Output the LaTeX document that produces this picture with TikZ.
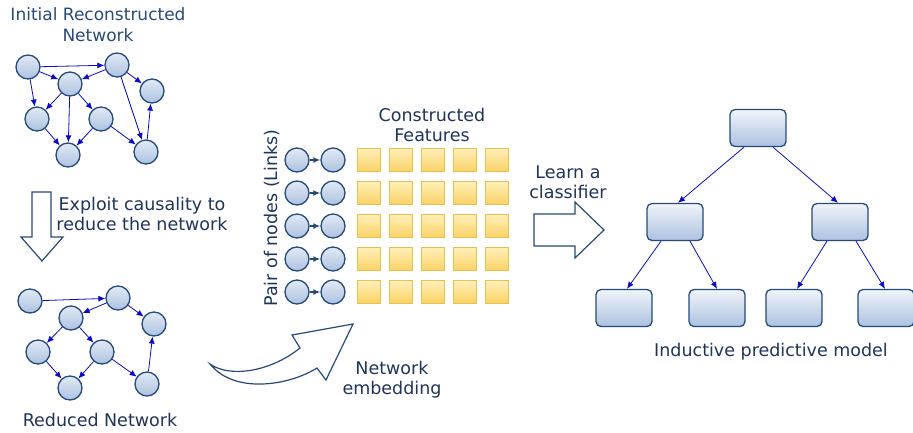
\documentclass[tikz,border=0pt]{standalone}
\usepackage{fontspec}
\setmainfont{DejaVu Sans}
\usetikzlibrary{arrows.meta}
\definecolor{navy}{RGB}{38,74,122}
\definecolor{txt}{RGB}{30,52,90}
\definecolor{edgeblue}{RGB}{10,10,200}
\definecolor{circtop}{RGB}{226,234,245}
\definecolor{circbot}{RGB}{172,194,224}
\definecolor{feattop}{RGB}{255,240,185}
\definecolor{featbot}{RGB}{250,210,100}
\definecolor{featline}{RGB}{232,192,80}
\begin{document}
\begin{tikzpicture}
	[x=1pt,y=-1pt,
	vert/.style={circle,draw=navy,line width=1.3pt,top color=circtop,bottom color=circbot,minimum size=24pt,inner sep=0pt},
	feat/.style={rectangle,draw=featline,line width=1pt,top color=feattop,bottom color=featbot,minimum size=23pt,inner sep=0pt},
	box/.style={rectangle,rounded corners=5pt,draw=navy,line width=1.3pt,top color=circtop!50!white,bottom color=circbot,minimum width=56pt,minimum height=37pt,inner sep=0pt},
	lbl/.style={text=txt,align=center,font=\fontsize{17.5}{20}\selectfont},
	link/.style={->,edgeblue,line width=0.8pt},
	hollow/.style={draw=navy,line width=1.2pt,fill=white,line join=miter},
	>={Latex[length=7pt,width=6pt]}]
	\useasboundingbox (0,0) rectangle (913,432);
	% initial network
	\node[lbl,text=navy,font=\fontsize{17}{21}\selectfont,name=t1]at(98,25){Initial Reconstructed\\Network};
	\node[vert,name=a1]at(28,67){};
	\node[vert,name=a2]at(70,84){};
	\node[vert,name=a3]at(117,65){};
	\node[vert,name=a4]at(152,91){};
	\node[vert,name=a5]at(37,119){};
	\node[vert,name=a6]at(101,119){};
	\node[vert,name=a7]at(68,155){};
	\node[vert,name=a8]at(146,152){};
	\draw[link] (a1)--(a3);
	\draw[link] (a1)--(a2);
	\draw[link] (a1)--(a5);
	\draw[link] (a3)--(a2);
	\draw[link] (a3)--(a4);
	\draw[link] (a3)--(a8);
	\draw[link] (a2)--(a5);
	\draw[link] (a2)--(a7);
	\draw[link] (a2)--(a6);
	\draw[link] (a5)--(a7);
	\draw[link] (a6)--(a7);
	\draw[link] (a6)--(a8);
	\draw[link] (a8)--(a4);
	% reduce step
	\draw[hollow] (32,192)--(51,192)--(51,237)--(63,237)--(42,261)--(21,237)--(32,237)--cycle;
	\node[lbl,name=t2]at(142,214){Exploit causality to\\reduce the network};
	% reduced network
	\node[vert,name=b1]at(30,301){};
	\node[vert,name=b2]at(71,318){};
	\node[vert,name=b3]at(118,298){};
	\node[vert,name=b4]at(154,324){};
	\node[vert,name=b5]at(38,352){};
	\node[vert,name=b6]at(102,352){};
	\node[vert,name=b7]at(70,388){};
	\node[vert,name=b8]at(147,384){};
	\draw[link] (b1)--(b3);
	\draw[link] (b3)--(b2);
	\draw[link] (b3)--(b4);
	\draw[link] (b2)--(b5);
	\draw[link] (b2)--(b6);
	\draw[link] (b5)--(b7);
	\draw[link] (b6)--(b7);
	\draw[link] (b6)--(b8);
	\draw[link] (b8)--(b4);
	\node[lbl,name=t3]at(100,420){Reduced Network};
	% embedding
	\draw[hollow] (210,364) .. controls (230,378) and (270,372) .. (300,348)
		--(292,335)--(353,324)--(326,380)--(317,368)
		.. controls (290,385) and (235,395) .. (210,364)--cycle;
	\node[lbl,name=t4]at(392,380){Network\\embedding};
	\node[lbl,name=t5,rotate=90]at(272,218){Pair of nodes (Links)};
	\node[lbl,name=t6]at(432,125){Constructed\\Features};
	\foreach \r in {1,...,5}{
		\node[vert,name=p\r]at(297,127+33*\r){};
		\node[vert,name=q\r]at(333,127+33*\r){};
		\draw[->,navy,line width=1.5pt] (p\r)--(q\r);
		\foreach \c in {1,...,5}
			\node[feat,name=f\r\c]at(337.5+31.8*\c,127+33*\r){};
	}
	% classifier
	\node[lbl,name=t7]at(568,182){Learn a\\classifier};
	\draw[hollow] (534,214)--(575,214)--(575,202)--(604,230)--(575,258)--(575,246)--(534,246)--cycle;
	% tree
	\node[box,name=r]at(758,128){};
	\node[box,name=r1]at(675,222){};
	\node[box,name=r2]at(840,222){};
	\node[box,name=r11]at(624,308){};
	\node[box,name=r12]at(717,308){};
	\node[box,name=r21]at(794,308){};
	\node[box,name=r22]at(886,308){};
	\draw[link] ([xshift=-14pt]r.south)--([xshift=3pt]r1.north);
	\draw[link] ([xshift=15pt]r.south)--([xshift=-2pt]r2.north);
	\draw[link] ([xshift=-14pt]r1.south)--([xshift=3pt]r11.north);
	\draw[link] ([xshift=15pt]r1.south)--(r12.north);
	\draw[link] ([xshift=-13pt]r2.south)--([xshift=3pt]r21.north);
	\draw[link] ([xshift=16pt]r2.south)--([xshift=-1pt]r22.north);
	\node[lbl,name=t8]at(771,352){Inductive predictive model};
\end{tikzpicture}
\end{document}
